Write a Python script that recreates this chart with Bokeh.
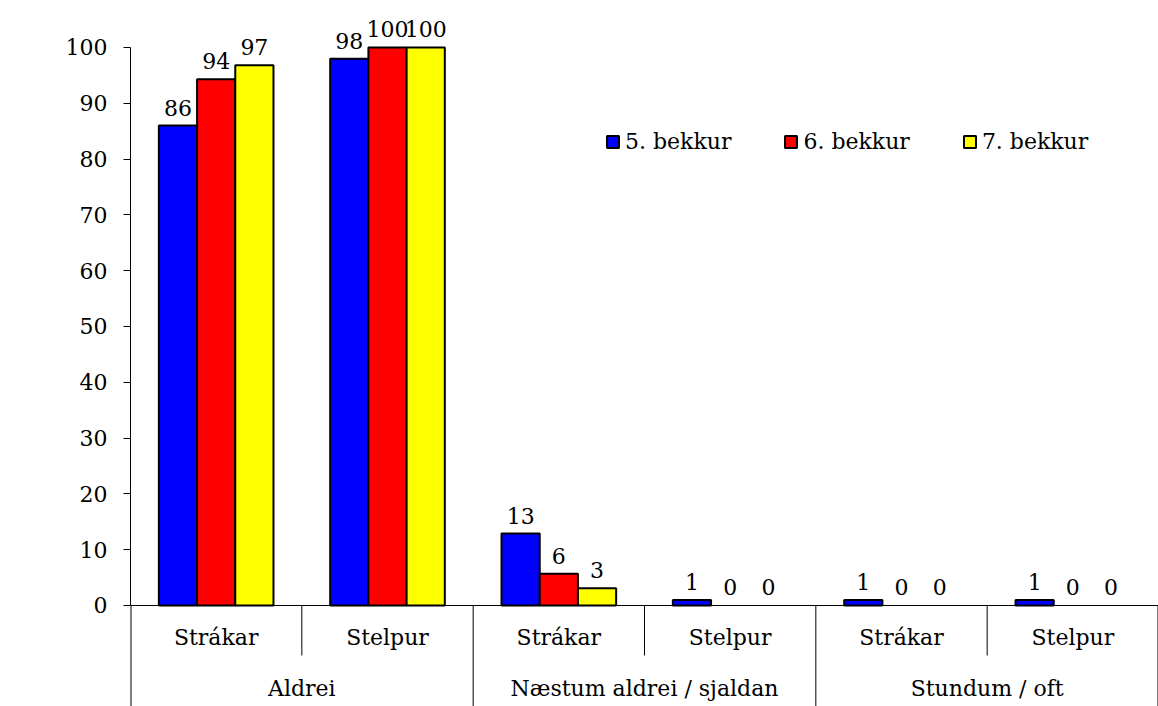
from bokeh.plotting import figure
from bokeh.models import Range1d, FixedTicker, Span, Label, Legend, LegendItem, ColumnDataSource
from bokeh.core.properties import value
from bokeh.embed import file_html
from bokeh.resources import INLINE

# ---- data ----
groups = ["Aldrei", "Næstum aldrei / sjaldan", "Stundum / oft"]
genders = ["Strákar", "Stelpur"]
series = ["5. bekkur", "6. bekkur", "7. bekkur"]
colors = ["#0000FF", "#FF0000", "#FFFF00"]
grade5 = [86.0, 98.0, 12.9, 1.0, 1.0, 1.0]
grade6 = [94.3, 100.0, 5.7, 0.0, 0.0, 0.0]
grade7 = [96.8, 100.0, 3.1, 0.0, 0.0, 0.0]
yticks = list(range(0, 101, 10))

FONT = "DejaVu Serif"
FS = "22px"

Y_MIN, Y_MAX = -18.1, 108.42
n_cat = len(groups) * len(genders)

p = figure(width=1158, height=706, output_backend="svg", toolbar_location=None,
           x_range=Range1d(0, n_cat), y_range=Range1d(Y_MIN, Y_MAX),
           x_axis_location=None,
           min_border_left=130, min_border_right=0, min_border_top=0, min_border_bottom=0)
p.grid.visible = False
p.outline_line_color = None
p.background_fill_color = "white"
p.border_fill_color = "white"

ya = p.yaxis[0]
ya.ticker = FixedTicker(ticks=yticks)
ya.bounds = (0, 100)
ya.major_tick_out = 7
ya.major_tick_in = 0
ya.minor_tick_out = 0
ya.minor_tick_in = 0
ya.axis_line_color = "black"
ya.major_tick_line_color = "black"
ya.major_label_text_font = FONT
ya.major_label_text_font_size = FS
ya.major_label_text_color = "black"
ya.major_label_standoff = 16

# zero line
p.add_layout(Span(location=0, dimension="width", line_color="black", line_width=1))

bar_w = 0.223
renderers = []
for k, (vals, col) in enumerate(zip([grade5, grade6, grade7], colors)):
    xs = [i + 0.5 + (k - 1) * bar_w for i in range(n_cat)]
    src = ColumnDataSource(dict(
        x=xs, top=vals,
        la=[1.0 if v > 0 else 0.0 for v in vals],
        lab=[str(int(round(v))) for v in vals],
    ))
    r = p.vbar(x="x", top="top", bottom=0, width=bar_w, fill_color=col,
               line_color="black", line_alpha="la", line_width=2, source=src)
    renderers.append(r)
    p.text(x="x", y="top", text="lab", source=src, text_align="center",
           text_baseline="alphabetic", y_offset=-18,
           text_font=value(FONT), text_font_size=FS, text_color="black")

# category labels
cat_x = [i + 0.5 for i in range(n_cat)]
cat_lab = genders * len(groups)
p.text(x=cat_x, y=[-5.73] * n_cat, text=cat_lab, text_align="center",
       text_baseline="middle", text_font=value(FONT), text_font_size=FS, text_color="black")
grp_x = [len(genders) * g + len(genders) / 2 for g in range(len(groups))]
p.text(x=grp_x, y=[-14.9] * len(groups), text=groups, text_align="center",
       text_baseline="middle", text_font=value(FONT), text_font_size=FS, text_color="black")

# separators
long_x = [len(genders) * g for g in range(len(groups) + 1)]
p.segment(x0=long_x, y0=[0] * len(long_x), x1=long_x, y1=[Y_MIN] * len(long_x),
          line_color="black", line_width=[2 if x in (0, n_cat) else 1 for x in long_x])
short_x = [len(genders) * g + 1 for g in range(len(groups))]
p.segment(x0=short_x, y0=[0] * len(short_x), x1=short_x, y1=[-8.96] * len(short_x),
          line_color="black", line_width=1)

# "%" label
p.add_layout(Label(x=-0.642, y=52.5, text="%", text_align="center", text_baseline="middle",
                   text_font=FONT, text_font_size=FS, text_color="black"))

legend = Legend(items=[LegendItem(label=s, renderers=[r]) for s, r in zip(series, renderers)],
                orientation="horizontal", location=(475, 549),
                border_line_color=None, background_fill_alpha=0,
                padding=0, margin=0, spacing=52, glyph_width=15, glyph_height=15,
                label_standoff=5, label_height=32, label_text_font=FONT, label_text_font_size=FS,
                label_text_color="black")
p.add_layout(legend)

open("out.html", "w").write(file_html(p, INLINE))
